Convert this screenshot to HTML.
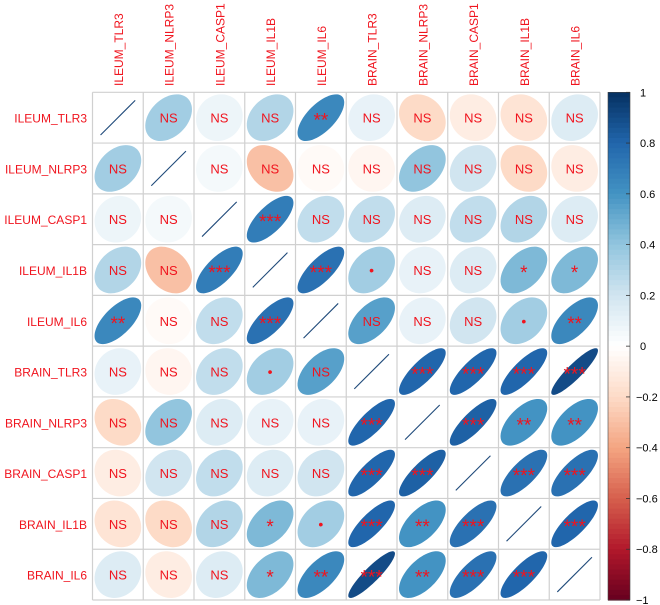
<!DOCTYPE html>
<html><head><meta charset="utf-8"><style>
html,body{margin:0;padding:0;background:#fff;}
svg{display:block;font-family:"Liberation Sans",Arial,sans-serif;}
</style></head><body>
<svg id="chart" width="660" height="605" viewBox="0 0 660 605" xmlns="http://www.w3.org/2000/svg"></svg>
<script>
const variables = ["ILEUM_TLR3","ILEUM_NLRP3","ILEUM_CASP1","ILEUM_IL1B","ILEUM_IL6","BRAIN_TLR3","BRAIN_NLRP3","BRAIN_CASP1","BRAIN_IL1B","BRAIN_IL6"];
const corrRow1 = [1, 0.35, 0.08, 0.3, 0.65, 0.1, -0.2, -0.1, -0.15, 0.15];
const corrRow2 = [0.35, 1, 0.05, -0.3, -0.03, -0.05, 0.4, 0.2, -0.2, -0.1];
const corrRow3 = [0.08, 0.05, 1, 0.7, 0.25, 0.25, 0.15, 0.25, 0.3, 0.15];
const corrRow4 = [0.3, -0.3, 0.7, 1, 0.75, 0.35, 0.1, 0.15, 0.45, 0.45];
const corrRow5 = [0.65, -0.03, 0.25, 0.75, 1, 0.55, 0.1, 0.2, 0.35, 0.65];
const corrRow6 = [0.1, -0.05, 0.25, 0.35, 0.55, 1, 0.8, 0.8, 0.8, 0.9];
const corrRow7 = [-0.2, 0.4, 0.15, 0.1, 0.1, 0.8, 1, 0.82, 0.6, 0.6];
const corrRow8 = [-0.1, 0.2, 0.25, 0.15, 0.2, 0.8, 0.82, 1, 0.75, 0.75];
const corrRow9 = [-0.15, -0.2, 0.3, 0.45, 0.35, 0.8, 0.6, 0.75, 1, 0.8];
const corrRow10 = [0.15, -0.1, 0.15, 0.45, 0.65, 0.9, 0.6, 0.75, 0.8, 1];
const sigRow1 = ["","NS","NS","NS","**","NS","NS","NS","NS","NS"];
const sigRow2 = ["NS","","NS","NS","NS","NS","NS","NS","NS","NS"];
const sigRow3 = ["NS","NS","","***","NS","NS","NS","NS","NS","NS"];
const sigRow4 = ["NS","NS","***","","***","•","NS","NS","*","*"];
const sigRow5 = ["**","NS","NS","***","","NS","NS","NS","•","**"];
const sigRow6 = ["NS","NS","NS","•","NS","","***","***","***","***"];
const sigRow7 = ["NS","NS","NS","NS","NS","***","","***","**","**"];
const sigRow8 = ["NS","NS","NS","NS","NS","***","***","","***","***"];
const sigRow9 = ["NS","NS","NS","*","•","***","**","***","","***"];
const sigRow10 = ["NS","NS","NS","*","**","***","**","***","***",""];
const colorbarTicks = [1,0.8,0.6,0.4,0.2,0,-0.2,-0.4,-0.6,-0.8,-1];

const corr = [corrRow1,corrRow2,corrRow3,corrRow4,corrRow5,corrRow6,corrRow7,corrRow8,corrRow9,corrRow10];
const sig = [sigRow1,sigRow2,sigRow3,sigRow4,sigRow5,sigRow6,sigRow7,sigRow8,sigRow9,sigRow10];

const NS = "http://www.w3.org/2000/svg";
const svg = document.getElementById("chart");
const gx0 = 92.5, gy0 = 92.3, gx1 = 600, gy1 = 600;
const n = variables.length;
const cw = (gx1-gx0)/n, ch = (gy1-gy0)/n;
const xCol = i => gx0 + cw*(i+0.5);
const yRow = j => gy0 + ch*(j+0.5);
const pal = ["#67001F","#B2182B","#D6604D","#F4A582","#FDDBC7","#FFFFFF","#D1E5F0","#92C5DE","#4393C3","#2166AC","#053061"];
function hex(h){return [1,3,5].map(k=>parseInt(h.substr(k,2),16));}
function colorOf(r){
  const t=(r+1)/2*(pal.length-1);
  const i=Math.min(Math.floor(t),pal.length-2), f=t-i;
  const a=hex(pal[i]), b=hex(pal[i+1]);
  return "rgb("+a.map((v,k)=>Math.round(v+(b[k]-v)*f)).join(",")+")";
}
function mk(tag, attrs, parent){
  const e=document.createElementNS(NS,tag);
  for(const k in attrs) e.setAttribute(k, attrs[k]);
  (parent||svg).appendChild(e);
  return e;
}
const colorScale = v => gy0 + (1-v)/2*(gy1-gy0);

const grid = mk("g",{});


for(let i=0;i<=n;i++){
  mk("line",{x1:gx0+cw*i,y1:gy0,x2:gx0+cw*i,y2:gy1,stroke:"#d0d0d0","stroke-width":1.2},grid);
  mk("line",{x1:gx0,y1:gy0+ch*i,x2:gx1,y2:gy0+ch*i,stroke:"#d0d0d0","stroke-width":1.2},grid);
}

for(let j=0;j<n;j++){
  for(let i=0;i<n;i++){
    const r = corr[j][i];
    const cx = xCol(i), cy = yRow(j);
    const g = mk("g",{});
    
    
    const s = Math.min(cw,ch)*0.46;
    if(i===j){
      const d = s*Math.SQRT1_2*1.05;
      const ln = mk("line",{x1:cx-d,y1:cy+d,x2:cx+d,y2:cy-d,stroke:"#1f4a7a","stroke-width":1.1},g);
      
      
    } else {
      const dd = Math.acos(Math.max(-1,Math.min(1,r)));
      let pts=[];
      for(let k=0;k<72;k++){
        const t=k/72*2*Math.PI;
        const x=Math.cos(t+dd/2), y=Math.cos(t-dd/2);
        pts.push((cx+x*s).toFixed(2)+","+(cy-y*s).toFixed(2));
      }
      const el = mk("polygon",{points:pts.join(" "),fill:colorOf(r)},g);
      
      
    }
    const lab = sig[j][i];
    if(lab){
      const isNS = lab==="NS";
      const fs = isNS?13:(lab==="•"?14:19);
      const tx = mk("text",{x:cx,y:cy+(isNS?5:(lab==="•"?5:9)),"text-anchor":"middle","font-size":fs,fill:"#f0141e"},g);
      tx.textContent = lab;
      
      
    }
  }
}

for(let j=0;j<n;j++){
  const t = mk("text",{x:87,y:yRow(j)+5,"text-anchor":"end","font-size":12,fill:"#f0141e"});
  t.textContent = variables[j];
  
  
}
for(let i=0;i<n;i++){
  const x = xCol(i)+5, y = 86;
  const t = mk("text",{x:x,y:y,"text-anchor":"start","font-size":12,fill:"#f0141e",transform:"rotate(-90 "+x+" "+y+")"});
  t.textContent = variables[i];
  
  
}

const cb = mk("g",{});


const steps = 100;
for(let k=0;k<steps;k++){
  const v1 = 1 - 2*k/steps, v2 = 1 - 2*(k+1)/steps;
  mk("rect",{x:608,y:colorScale(v1),width:22,height:colorScale(v2)-colorScale(v1)+0.6,fill:colorOf((v1+v2)/2)},cb);
}
mk("rect",{x:608,y:gy0,width:22,height:gy1-gy0,fill:"none",stroke:"#444","stroke-width":0.6},cb);
colorbarTicks.forEach(v=>{
  const y = colorScale(v);
  mk("line",{x1:626,y1:y,x2:630,y2:y,stroke:"#333","stroke-width":0.8},cb);
  const t = mk("text",{x:v<0?636:640,y:y+4,"font-size":11,fill:"#000"},cb);
  t.textContent = v===0?"0":(v<0?"\u2212"+String(-v):String(v));
  
  
});
</script>
</body></html>
